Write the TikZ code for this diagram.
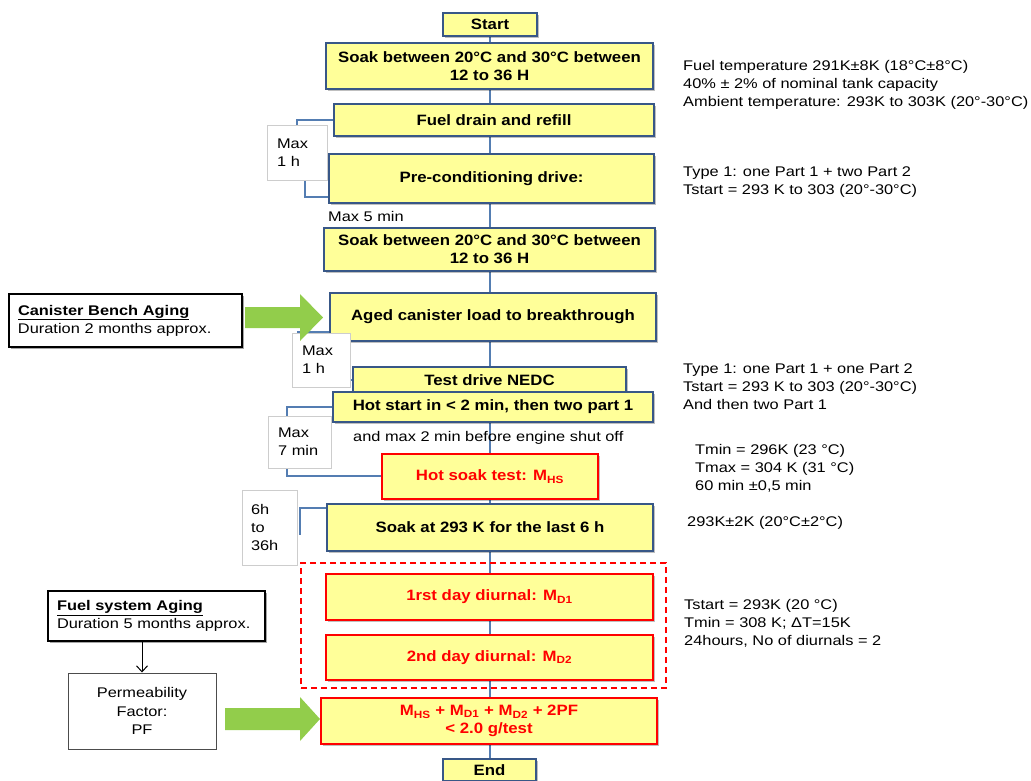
\documentclass[tikz,border=0pt]{standalone}
\usepackage{fontspec}
\setmainfont[FakeStretch=1.17]{Liberation Sans}
\newfontfamily\boxfont[FakeStretch=1.12]{Liberation Sans}
\usetikzlibrary{shadows,backgrounds,arrows.meta}
\definecolor{yfill}{RGB}{255,255,153}
\definecolor{bblue}{RGB}{56,87,135}
\definecolor{lblue}{RGB}{84,125,178}
\definecolor{rred}{RGB}{255,0,0}
\definecolor{agreen}{RGB}{146,205,75}
\definecolor{gbord}{RGB}{205,205,205}
\tikzset{
  ybox/.style={draw=bblue, line width=2.5pt, fill=yfill, inner sep=0pt, align=center,
    font=\boxfont\bfseries\fontsize{15}{18}\selectfont,
    drop shadow={shadow xshift=1.5pt, shadow yshift=-1.5pt, fill=black, opacity=0.25}},
  rbox/.style={ybox, draw=rred, text=rred},
  gbox/.style={draw=gbord, line width=0.8pt, fill=white, inner sep=0pt, align=left,
    font=\fontsize{14}{18}\selectfont},
  wbox/.style={draw=black, line width=1.5pt, fill=white, inner sep=0pt, align=left,
    font=\fontsize{14}{18}\selectfont,
    drop shadow={shadow xshift=1.5pt, shadow yshift=-1.5pt, fill=black, opacity=0.35}},
  note/.style={inner sep=0pt, align=left, anchor=west, font=\fontsize{14}{18}\selectfont},
  link/.style={draw=lblue, line width=1.3pt},
  garrow/.style={fill=agreen}
}
% box by its corners: style, name, x1, y1, x2, y2, text
\newcommand\mkbox[7]{%
  \pgfmathsetmacro\bcx{(#3+#5)/2}\pgfmathsetmacro\bcy{(#4+#6)/2}%
  \pgfmathsetmacro\bw{#5-#3}\pgfmathsetmacro\bh{#6-#4}%
  \node[#1, minimum width=\bw pt, minimum height=\bh pt] (#2) at (\bcx,\bcy) {#7};}
\begin{document}
\begin{tikzpicture}[x=1pt,y=-1pt]
\useasboundingbox (0,0) rectangle (1031,780);

% main flow
\mkbox{ybox}{start}{443}{13}{537}{36}{Start}
\mkbox{ybox}{soak1}{326}{43}{653}{89}{Soak between 20°C and 30°C between\\12 to 36 H}
\mkbox{ybox}{drain}{334}{104}{654}{136}{Fuel drain and refill}
\mkbox{ybox}{precond}{329}{154}{654}{203}{Pre-conditioning drive:}
\mkbox{ybox}{soak2}{324}{228}{655}{271}{Soak between 20°C and 30°C between\\12 to 36 H}
\mkbox{ybox}{aged}{330}{293}{656}{341}{Aged canister load to breakthrough}
\mkbox{ybox}{nedc}{353}{367}{626}{394}{Test drive NEDC}
\mkbox{ybox}{hotstart}{333}{392}{653}{422}{Hot start in < 2 min, then two part 1}
\mkbox{rbox}{hotsoak}{382}{454}{598}{499}{Hot soak test: M\textsubscript{HS}}
\mkbox{ybox}{soak3}{327}{504}{653}{551}{Soak at 293 K for the last 6 h}
\mkbox{draw=rred, line width=2.2pt, dash pattern=on 6pt off 4pt, inner sep=0pt}{diurnal}{301}{563}{666}{688}{}
\mkbox{rbox}{d1}{326}{574}{653}{620}{1rst day diurnal: M\textsubscript{D1}}
\mkbox{rbox}{d2}{326}{635}{653}{680}{2nd day diurnal: M\textsubscript{D2}}
\mkbox{rbox}{result}{321}{698}{657}{744}{M\textsubscript{HS} + M\textsubscript{D1} + M\textsubscript{D2} + 2PF\\< 2.0 g/test}
\mkbox{ybox}{end}{443}{759}{536}{781}{End}

% bracket boxes
\mkbox{gbox, text width=40pt}{b1}{267}{125}{327}{180}{Max\\1 h}
\mkbox{gbox, text width=38pt}{b2}{292}{333}{350}{387}{Max\\1 h}
\mkbox{gbox, text width=43pt}{b3}{268}{416}{331}{468}{Max\\7 min}
\mkbox{gbox, text width=37pt}{b4}{242}{490}{297}{565}{6h\\to\\36h}

% labels along the flow
\node[note] (l1) at (328,216) {Max 5 min};
\node[note] (l2) at (353,438) {and max 2 min before engine shut off};

% left boxes
\mkbox{wbox, text width=215pt}{canister}{9}{294}{242}{347}{\textbf{\underline{Canister Bench Aging}}\\Duration 2 months approx.}
\mkbox{wbox, text width=199pt}{fuelage}{48}{591}{265}{641}{\textbf{\underline{Fuel system Aging}}\\Duration 5 months approx.}
\mkbox{gbox, draw=black!70, line width=1pt, align=center, text width=130pt, font=\fontsize{14}{18.5}\selectfont}{perm}{68}{673}{216}{749}{Permeability\\Factor:\\PF}

% green arrows
\fill[garrow] (245,307) -- (300,307) -- (300,294) -- (323,317.5) -- (300,341) -- (300,328) -- (245,328) -- cycle;
\fill[garrow] (225,708) -- (300,708) -- (300,697) -- (320,719) -- (300,741) -- (300,730) -- (225,730) -- cycle;

% right notes
\node[note] (n1) at (683,85) {Fuel temperature 291K±8K (18°C±8°C)\\40\% ± 2\% of nominal tank capacity\\Ambient temperature: 293K to 303K (20°-30°C)};
\node[note] (n2) at (683,182) {Type 1: one Part 1 + two Part 2\\Tstart = 293 K to 303 (20°-30°C)};
\node[note] (n3) at (683,387) {Type 1: one Part 1 + one Part 2\\Tstart = 293 K to 303 (20°-30°C)\\And then two Part 1};
\node[note] (n4) at (695,468) {Tmin = 296K (23 °C)\\Tmax = 304 K (31 °C)\\60 min ±0,5 min};
\node[note] (n5) at (687,523) {293K±2K (20°C±2°C)};
\node[note] (n6) at (684,623) {Tstart = 293K (20 °C)\\Tmin = 308 K; ΔT=15K\\24hours, No of diurnals = 2};

\draw[-{Straight Barb[length=6pt,width=11pt]}, line width=1pt] (perm.north |- fuelage.south) -- (perm.north);

\begin{scope}[on background layer]
\foreach \a/\b in {start/soak1, soak1/drain, drain/precond, precond/soak2, soak2/aged, aged/nedc, hotstart/hotsoak, hotsoak/soak3, soak3/d1, d1/d2, d2/result, result/end}
  \draw[link] (\a.south -| start.south) -- (\b.north -| start.south);
\draw[link] (drain.west) -- (297,120) -- (297,150) -- (305,150) -- (305,197) -- (precond.west |- 0,197);
\draw[link] (aged.west |- 0,332) -- (298,332) -- (298,380) -- (nedc.west |- 0,380);
\draw[link] (hotstart.west |- 0,407) -- (287,407) -- (287,476) -- (hotsoak.west |- 0,476);
\draw[link] (soak3.west |- 0,508) -- (300,508) -- (300,535);
\end{scope}
\end{tikzpicture}
\end{document}
